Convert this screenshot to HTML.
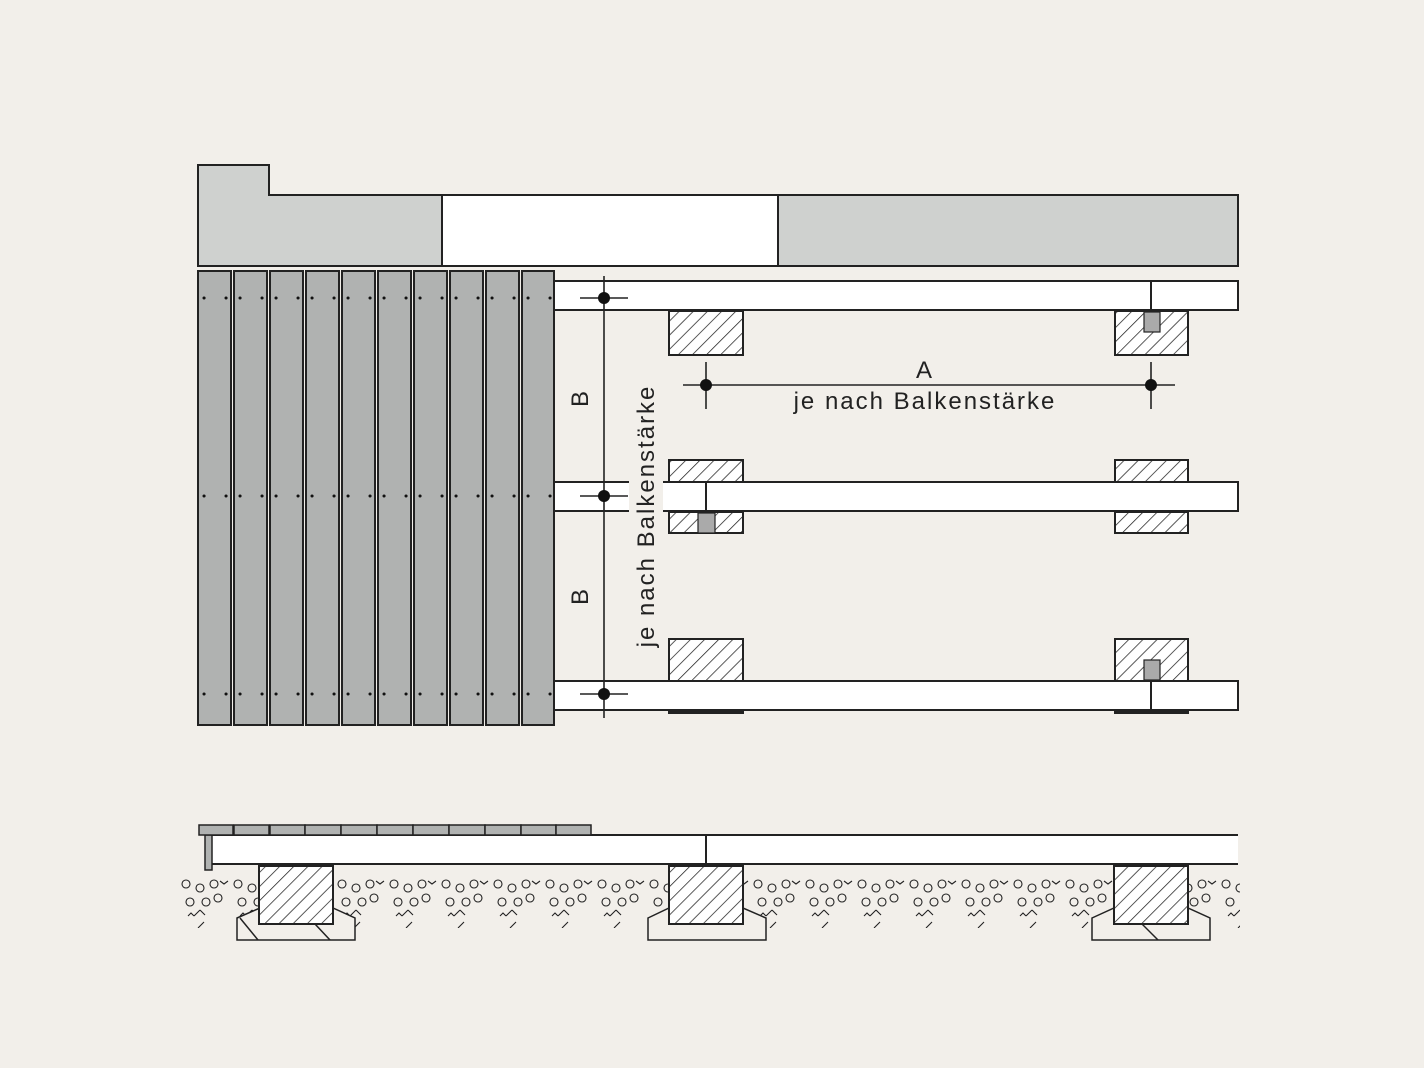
<!DOCTYPE html>
<html><head><meta charset="utf-8"><style>html,body{margin:0;padding:0;background:#f2efea}svg{display:block}</style></head>
<body>
<svg width="1424" height="1068" viewBox="0 0 1424 1068" xmlns="http://www.w3.org/2000/svg" font-family="Liberation Sans, sans-serif">
<defs>
<pattern id="h" patternUnits="userSpaceOnUse" width="10" height="10" patternTransform="rotate(45)">
<rect width="10" height="10" fill="#fff"/><line x1="0" y1="0" x2="0" y2="10" stroke="#222" stroke-width="1.5"/>
</pattern>
<pattern id="g" patternUnits="userSpaceOnUse" x="180" y="878" width="52" height="50">
<g fill="none" stroke="#222" stroke-width="1.1">
<circle cx="6" cy="6" r="4"/><circle cx="20" cy="10" r="4"/><circle cx="34" cy="6" r="4"/><path d="M40 3l4 3 4-3"/>
<circle cx="10" cy="24" r="4"/><circle cx="26" cy="24" r="4"/><circle cx="38" cy="20" r="4"/>
<path d="M14 38l6-6M20 32l5 5M24 44l-6 6"/><path d="M8 38l3-3 3 3"/>
</g>
</pattern>
</defs>
<rect width="1424" height="1068" fill="#f2efea"/>
<g stroke="#222" stroke-width="2">
<polygon points="198,165 269,165 269,195 442,195 442,266 198,266" fill="#cfd1cf"/>
<rect x="442" y="195" width="336" height="71" fill="#fff"/>
<rect x="778" y="195" width="460" height="71" fill="#cfd1cf"/>
</g>
<g stroke="#222" stroke-width="2" fill="#fff">
<rect x="554" y="281" width="684" height="29"/>
<rect x="554" y="482" width="684" height="29"/>
<rect x="554" y="681" width="684" height="29"/>
</g>
<g stroke="#222" stroke-width="2" fill="url(#h)">
<rect x="669" y="311" width="74" height="44"/><rect x="1115" y="311" width="73" height="44"/>
<rect x="669" y="460" width="74" height="22"/><rect x="1115" y="460" width="73" height="22"/>
<rect x="669" y="512" width="74" height="21"/><rect x="1115" y="512" width="73" height="21"/>
<rect x="669" y="639" width="74" height="42"/><rect x="1115" y="639" width="73" height="42"/>
<rect x="669" y="711" width="74" height="2"/><rect x="1115" y="711" width="73" height="2"/>
</g>
<g stroke="#222" stroke-width="2">
<line x1="1151" y1="281" x2="1151" y2="311"/><line x1="706" y1="482" x2="706" y2="511"/><line x1="1151" y1="681" x2="1151" y2="710"/>
</g>
<g fill="#aaa" stroke="#222" stroke-width="1.2">
<rect x="1144" y="312" width="16" height="20"/><rect x="698" y="513" width="17" height="20"/><rect x="1144" y="660" width="16" height="20"/>
</g>
<g stroke="#222" stroke-width="2" fill="#b0b2b1">
<rect x="198" y="271" width="33" height="454"/><rect x="234" y="271" width="33" height="454"/>
<rect x="270" y="271" width="33" height="454"/><rect x="306" y="271" width="33" height="454"/>
<rect x="342" y="271" width="33" height="454"/><rect x="378" y="271" width="33" height="454"/>
<rect x="414" y="271" width="33" height="454"/><rect x="450" y="271" width="33" height="454"/>
<rect x="486" y="271" width="33" height="454"/><rect x="522" y="271" width="32" height="454"/>
</g>
<g stroke="#111" stroke-width="3" stroke-linecap="round" stroke-dasharray="0.1 35.9">
<line x1="204" y1="298" x2="554" y2="298"/><line x1="226" y1="298" x2="554" y2="298"/>
<line x1="204" y1="496" x2="554" y2="496"/><line x1="226" y1="496" x2="554" y2="496"/>
<line x1="204" y1="694" x2="554" y2="694"/><line x1="226" y1="694" x2="554" y2="694"/>
</g>
<rect x="629" y="384" width="34" height="264" fill="#f2efea"/>
<g stroke="#222" stroke-width="1.6">
<line x1="604" y1="276" x2="604" y2="718"/>
<line x1="580" y1="298" x2="628" y2="298"/><line x1="580" y1="496" x2="628" y2="496"/><line x1="580" y1="694" x2="628" y2="694"/>
<line x1="683" y1="385" x2="1175" y2="385"/>
<line x1="706" y1="362" x2="706" y2="409"/><line x1="1151" y1="362" x2="1151" y2="409"/>
</g>
<g fill="#111">
<circle cx="604" cy="298" r="6"/><circle cx="604" cy="496" r="6"/><circle cx="604" cy="694" r="6"/>
<circle cx="706" cy="385" r="6"/><circle cx="1151" cy="385" r="6"/>
</g>
<g fill="#222" font-size="24" letter-spacing="2">
<text x="925" y="378" text-anchor="middle">A</text>
<text x="925" y="409" text-anchor="middle">je nach Balkenstärke</text>
<text transform="translate(588,398) rotate(-90)" text-anchor="middle">B</text>
<text transform="translate(588,596) rotate(-90)" text-anchor="middle">B</text>
<text transform="translate(654,516) rotate(-90)" text-anchor="middle">je nach Balkenstärke</text>
</g>
<rect x="180" y="878" width="1060" height="50" fill="url(#g)"/>
<g stroke="#222" stroke-width="1.5" fill="#f2efea">
<polygon points="237,918 260,908 333,908 355,918 355,940 237,940"/>
<polygon points="648,918 669,908 743,908 766,918 766,940 648,940"/>
<polygon points="1092,918 1114,908 1188,908 1210,918 1210,940 1092,940"/>
<line x1="240" y1="918" x2="258" y2="940"/><line x1="315" y1="924" x2="330" y2="940"/>
<line x1="1142" y1="924" x2="1158" y2="940"/>
</g>
<g stroke="#222" stroke-width="2" fill="url(#h)">
<rect x="259" y="866" width="74" height="58"/><rect x="669" y="866" width="74" height="58"/><rect x="1114" y="866" width="74" height="58"/>
</g>
<rect x="212" y="835" width="1026" height="29" fill="#fff"/>
<g stroke="#222" stroke-width="2">
<line x1="212" y1="835" x2="1238" y2="835"/><line x1="212" y1="864" x2="1238" y2="864"/><line x1="706" y1="835" x2="706" y2="864"/>
</g>
<g stroke="#222" stroke-width="1.5" fill="#b0b2b1">
<rect x="205" y="835" width="7" height="35"/>
<rect x="199" y="825" width="34" height="10"/><rect x="234" y="825" width="35" height="10"/><rect x="270" y="825" width="35" height="10"/>
<rect x="305" y="825" width="36" height="10"/><rect x="341" y="825" width="36" height="10"/><rect x="377" y="825" width="36" height="10"/>
<rect x="413" y="825" width="36" height="10"/><rect x="449" y="825" width="36" height="10"/><rect x="485" y="825" width="36" height="10"/>
<rect x="521" y="825" width="35" height="10"/><rect x="556" y="825" width="35" height="10"/>
</g>
</svg>
</body></html>
